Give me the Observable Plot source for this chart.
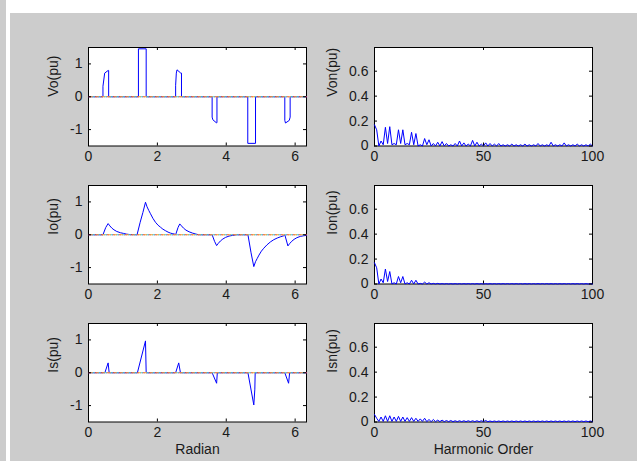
<!DOCTYPE html>
<html><head><meta charset="utf-8">
<script src="https://cdn.jsdelivr.net/npm/d3@7"></script>
<script src="https://cdn.jsdelivr.net/npm/@observablehq/plot@0.6"></script>
<style>
body{margin:0;background:#fff;width:637px;height:461px;overflow:hidden;position:relative;font-family:"Liberation Sans",Arial,sans-serif}
#strip{position:absolute;left:0;top:0;width:6px;height:461px;background:#cccccc}
#fig{position:absolute;left:10px;top:13px;width:627px;height:448px;background:#cccccc}
.panel{position:absolute}
</style></head><body>
<div id="strip"></div><div id="fig"></div>
<script>
// ---- time-domain waveforms (x in radian) ----
const voX = [0, 0.42, 0.42, 0.47, 0.57, 0.585, 0.585, 1.45, 1.45, 1.675, 1.675, 2.53, 2.53, 2.55, 2.57, 2.68, 2.70, 2.70, 3.59, 3.59, 3.61, 3.71, 3.73, 3.73, 4.625, 4.625, 4.85, 4.85, 5.70, 5.70, 5.72, 5.83, 5.855, 5.855, 6.33];
const voY = [0, 0, 0.32, 0.72, 0.80, 0.80, 0, 0, 1.46, 1.46, 0, 0, 0.35, 0.72, 0.82, 0.72, 0.72, 0, 0, -0.62, -0.70, -0.79, -0.79, 0, 0, -1.42, -1.42, 0, 0, -0.72, -0.80, -0.72, -0.62, 0, 0];

const ioX = [0, 0.42, 0.50, 0.57, 0.62, 0.68, 0.74, 0.82, 0.93, 1.02, 1.10, 1.20,
  1.41, 1.50, 1.58, 1.655, 1.70, 1.75, 1.80, 1.87, 1.945, 2.02, 2.09, 2.16, 2.24, 2.31, 2.38, 2.45, 2.50,
  2.53, 2.60, 2.65, 2.70, 2.76, 2.83, 2.92, 3.02, 3.12, 3.20,
  3.59, 3.66, 3.72, 3.77, 3.83, 3.90, 3.98, 4.08, 4.18, 4.30,
  4.63, 4.72, 4.80, 4.85, 4.90, 4.95, 5.02, 5.09, 5.18, 5.28, 5.38, 5.48, 5.58, 5.67,
  5.70, 5.79, 5.84, 5.90, 5.97, 6.05, 6.15, 6.25, 6.33];
const ioY = [0, 0, 0.22, 0.34, 0.27, 0.20, 0.15, 0.10, 0.06, 0.04, 0.02, 0.005,
  0, 0.38, 0.68, 0.99, 0.85, 0.74, 0.64, 0.50, 0.38, 0.29, 0.23, 0.17, 0.12, 0.08, 0.05, 0.03, 0.02,
  0, 0.22, 0.33, 0.27, 0.20, 0.14, 0.09, 0.05, 0.02, 0,
  0, -0.20, -0.33, -0.26, -0.19, -0.13, -0.08, -0.04, -0.02, 0,
  0, -0.55, -0.97, -0.82, -0.72, -0.62, -0.50, -0.41, -0.31, -0.22, -0.15, -0.10, -0.06, -0.03,
  0, -0.34, -0.27, -0.20, -0.14, -0.09, -0.05, -0.03, -0.02];

const isX = [0, 0.475, 0.57, 0.60, 1.42, 1.655, 1.675, 2.53, 2.62, 2.67, 3.59, 3.72, 3.74, 4.63, 4.80, 4.83, 4.84, 5.70, 5.81, 5.84, 6.33];
const isY = [0, 0, 0.30, 0, 0, 0.97, 0, 0, 0.30, 0, 0, -0.32, 0, 0, -0.98, -0.50, 0, 0, -0.32, 0, 0];

// ---- harmonic spectra ----
const harmonicOrder = d3.range(0, 101);
const vonValues = [
 0.17, 0.13, 0.00, 0.04, 0.01, 0.15, 0.02, 0.155, 0.01, 0.02,
 0.01, 0.13, 0.02, 0.13, 0.01, 0.02, 0.01, 0.11, 0.01, 0.10,
 0.00, 0.01, 0.00, 0.06, 0.01, 0.05, 0.00, 0.02, 0.00, 0.03,
 0.00, 0.035, 0.00, 0.02, 0.00, 0.01, 0.00, 0.02, 0.00, 0.04,
 0.00, 0.025, 0.00, 0.015, 0.00, 0.045, 0.00, 0.03, 0.00, 0.015,
 0.00, 0.025, 0.00, 0.02, 0.00, 0.015, 0.00, 0.02, 0.00, 0.01,
 0.00, 0.01, 0.00, 0.015, 0.00, 0.01, 0.00, 0.01, 0.00, 0.015,
 0.00, 0.01, 0.00, 0.01, 0.00, 0.02, 0.00, 0.01, 0.00, 0.01,
 0.00, 0.03, 0.00, 0.01, 0.00, 0.01, 0.00, 0.025, 0.00, 0.01,
 0.00, 0.01, 0.00, 0.015, 0.00, 0.01, 0.00, 0.01, 0.00, 0.015,
 0.00];
const ionValues = [
 0.17, 0.13, 0.00, 0.04, 0.01, 0.12, 0.02, 0.10, 0.00, 0.01,
 0.00, 0.06, 0.01, 0.06, 0.00, 0.01, 0.00, 0.03, 0.00, 0.03,
 0.00, 0.005, 0.00, 0.015, 0.00, 0.01, 0.00, 0.005, 0.00, 0.005,
 0.00, 0.003, 0.00, 0.003, 0.00, 0.003, 0.00, 0.003, 0.00, 0.003,
 0.00, 0.003, 0.00, 0.003, 0.00, 0.003, 0.00, 0.003, 0.00, 0.003,
 0.00, 0.003, 0.00, 0.003, 0.00, 0.003, 0.00, 0.003, 0.00, 0.003,
 0.00, 0.003, 0.00, 0.003, 0.00, 0.003, 0.00, 0.003, 0.00, 0.003,
 0.00, 0.003, 0.00, 0.003, 0.00, 0.003, 0.00, 0.003, 0.00, 0.003,
 0.00, 0.003, 0.00, 0.003, 0.00, 0.003, 0.00, 0.003, 0.00, 0.003,
 0.00, 0.003, 0.00, 0.003, 0.00, 0.003, 0.00, 0.003, 0.00, 0.003,
 0.00];
const isnValues = [
 0.06, 0.03, 0.005, 0.04, 0.005, 0.05, 0.005, 0.05, 0.005, 0.04,
 0.005, 0.045, 0.005, 0.04, 0.005, 0.035, 0.005, 0.035, 0.005, 0.03,
 0.005, 0.025, 0.005, 0.03, 0.003, 0.02, 0.003, 0.02, 0.003, 0.015,
 0.003, 0.015, 0.003, 0.012, 0.003, 0.012, 0.003, 0.01, 0.003, 0.01,
 0.003, 0.01, 0.003, 0.01, 0.003, 0.01, 0.003, 0.01, 0.003, 0.01,
 0.003, 0.012, 0.003, 0.008, 0.003, 0.008, 0.003, 0.008, 0.003, 0.008,
 0.003, 0.008, 0.003, 0.008, 0.003, 0.008, 0.003, 0.008, 0.003, 0.008,
 0.003, 0.008, 0.003, 0.008, 0.003, 0.008, 0.003, 0.008, 0.003, 0.008,
 0.003, 0.008, 0.003, 0.008, 0.003, 0.008, 0.003, 0.008, 0.003, 0.008,
 0.003, 0.008, 0.003, 0.008, 0.003, 0.008, 0.003, 0.008, 0.003, 0.008,
 0.003];

// ---- axes ----
const radianDomain = [0, 6.33];
const radianTicks = [0, 2, 4, 6];
const puDomain = [-1.5, 1.5];
const puTicks = [-1, 0, 1];
const orderDomain = [0, 100];
const orderTicks = [0, 50, 100];
const specDomain = [0, 0.79];
const specTicks = [0, 0.2, 0.4, 0.6];
const zeroX = [0, 6.33];
const zeroColors = ["#e8453c", "#3cc8e0", "#f0a030"];

const W = 218, ML = 60, MR = 14, MT = 8, MB = 41.5, SVGH = 148;
const PH = SVGH - MT - MB;

function panel({pts, xDomain, xTicks, yDomain, yTicks, yLabel, xLabel, left, top, labelDx, zero}) {
  const marks = [
    Plot.frame({fill: "white", stroke: null}),
    Plot.frame({stroke: "black", strokeWidth: 1}),
    Plot.line(pts, {x: "x", y: "y", stroke: "#0000ff", strokeWidth: 1})
  ];
  if (zero) {
    const zpts = zeroX.map(x => ({x, y: 0}));
    zeroColors.forEach((c, i) => marks.push(Plot.line(zpts, {x: "x", y: "y", stroke: c, strokeWidth: 1.2, strokeDasharray: "2,4", strokeDashoffset: i * 2})));
  }
  marks.push(
    Plot.tickX(xTicks, {x: d => d, insetTop: PH - 3, stroke: "black"}),
    Plot.tickX(xTicks, {x: d => d, insetBottom: PH - 3, stroke: "black"}),
    Plot.tickY(yTicks, {y: d => d, insetRight: W - 3, stroke: "black"}),
    Plot.tickY(yTicks, {y: d => d, insetLeft: W - 3, stroke: "black"}),
    Plot.axisX({ticks: xTicks, tickSize: 0, tickPadding: 5, tickFormat: d => String(d), label: null}),
    Plot.axisY({ticks: yTicks, tickSize: 0, tickPadding: 6, tickFormat: d => String(d), label: null}),
    Plot.text([yLabel], {text: d => d, frameAnchor: "left", dx: -labelDx, rotate: -90, fontSize: 14})
  );
  if (xLabel) marks.push(Plot.text([xLabel], {text: d => d, frameAnchor: "bottom", dy: 32, fontSize: 14}));
  const svg = Plot.plot({
    width: ML + W + MR, height: SVGH,
    marginLeft: ML, marginRight: MR, marginTop: MT, marginBottom: MB,
    x: {domain: xDomain, label: null},
    y: {domain: yDomain, label: null},
    style: {background: "transparent", overflow: "visible", fontSize: "14px", fontFamily: '"Liberation Sans", Arial, sans-serif', color: "#1a1a1a"},
    marks
  });
  svg.classList.add("panel");
  svg.style.position = "absolute";
  svg.style.left = (left - ML) + "px";
  svg.style.top = (top - MT) + "px";
  document.body.appendChild(svg);
}

const toPts = (xs, ys) => xs.map((x, i) => ({x, y: ys[i]}));
const rowTops = [47, 184.5, 322.5];
const leftX = 88, rightX = 374;

const timeRows = [
  {xs: voX, ys: voY, label: "Vo(pu)"},
  {xs: ioX, ys: ioY, label: "Io(pu)"},
  {xs: isX, ys: isY, label: "Is(pu)"}
];
const specRows = [
  {vals: vonValues, label: "Von(pu)"},
  {vals: ionValues, label: "Ion(pu)"},
  {vals: isnValues, label: "Isn(pu)"}
];

timeRows.forEach((r, i) => panel({
  pts: toPts(r.xs, r.ys), xDomain: radianDomain, xTicks: radianTicks,
  yDomain: puDomain, yTicks: puTicks, yLabel: r.label,
  xLabel: i === 2 ? "Radian" : null, left: leftX, top: rowTops[i], labelDx: 35, zero: true
}));
specRows.forEach((r, i) => panel({
  pts: toPts(harmonicOrder, r.vals), xDomain: orderDomain, xTicks: orderTicks,
  yDomain: specDomain, yTicks: specTicks, yLabel: r.label,
  xLabel: i === 2 ? "Harmonic Order" : null, left: rightX, top: rowTops[i], labelDx: 42, zero: false
}));
</script></body></html>
